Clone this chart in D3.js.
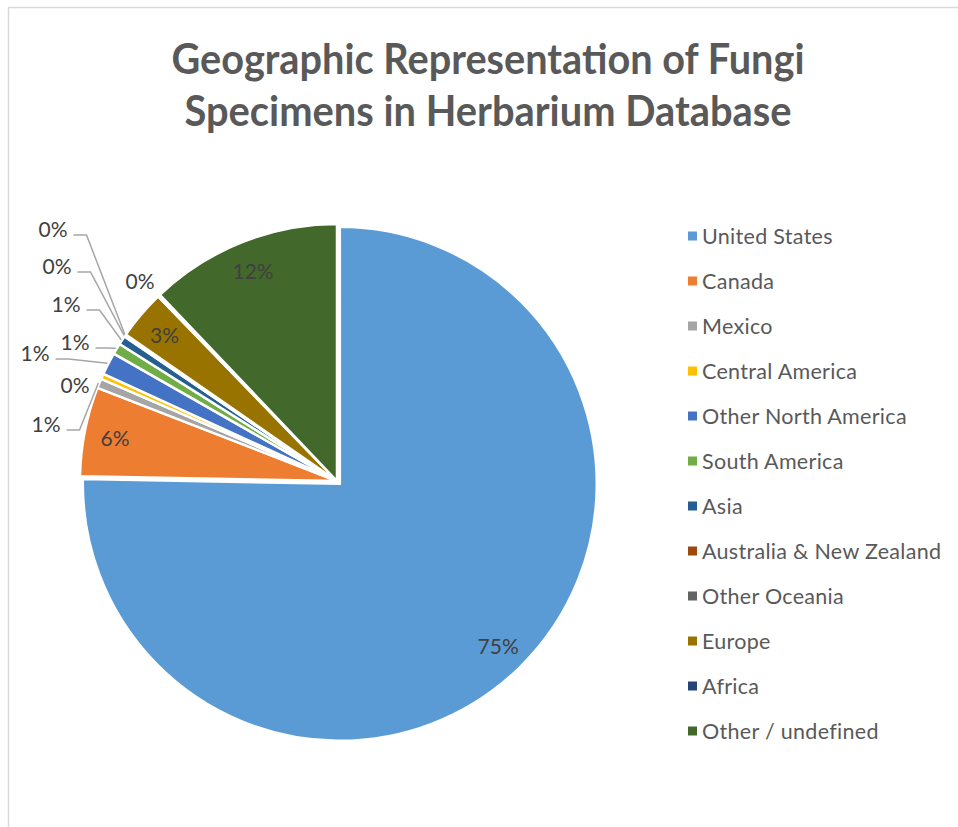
<!DOCTYPE html>
<html>
<head>
<meta charset="utf-8">
<script src="https://cdn.jsdelivr.net/npm/d3@7"></script>
<style>
  body { margin: 0; background: #fff; }
  svg { display: block; font-family: Lato, "Open Sans", sans-serif; }
</style>
</head>
<body>
<div id="chart"></div>
<script>
"use strict";

// data (percent of specimens)
var regions = ["United States", "Canada", "Mexico", "Central America", "Other North America",
               "South America", "Asia", "Australia & New Zealand", "Other Oceania", "Europe",
               "Africa", "Other / undefined"];
var shares = [75.3, 5.6, 0.6, 0.35, 1.4, 0.7, 0.55, 0.1, 0.05, 3.1, 0.15, 12.1];
var colors = ["#5B9BD5", "#ED7D31", "#A5A5A5", "#FFC000", "#4472C4", "#70AD47",
              "#255E91", "#9E480E", "#636363", "#997300", "#264478", "#43682B"];
var titleLines = ["Geographic Representation of Fungi", "Specimens in Herbarium Database"];

// where the small-slice labels sit, relative to the pie centre
var outsideLabels = {
    "Mexico":                  {dx: -291, dy: -58,  leader: true},
    "Central America":         {dx: -262, dy: -97,  leader: false},
    "Other North America":     {dx: -302, dy: -129, leader: true},
    "South America":           {dx: -262, dy: -140, leader: true},
    "Asia":                    {dx: -271, dy: -178, leader: true},
    "Australia & New Zealand": {dx: -280, dy: -216, leader: true},
    "Other Oceania":           {dx: -284, dy: -253, leader: true},
    "Africa":                  {dx: -197, dy: -201, leader: false}
};

var w = 958, h = 827;
var cx = 337, cy = 481, r = 257;
var explode = 4;

var svg = d3.select("#chart")
    .append("svg")
    .attr("width", w)
    .attr("height", h);

// chart frame
svg.append("rect")
    .attr("x", 8.5)
    .attr("y", 7.5)
    .attr("width", 980)
    .attr("height", 850)
    .attr("fill", "none")
    .attr("stroke", "#d9d9d9")
    .attr("stroke-width", 1.5);

// title
var titleWidths = [633, 607];
svg.selectAll("text.title")
    .data(titleLines)
    .enter()
    .append("text")
    .attr("class", "title")
    .attr("x", 488)
    .attr("y", function(d, i){ return 74 + i * 52; })
    .attr("text-anchor", "middle")
    .attr("font-size", 42)
    .attr("font-weight", 700)
    .attr("fill", "#595959")
    .attr("textLength", function(d, i){ return titleWidths[i]; })
    .attr("lengthAdjust", "spacingAndGlyphs")
    .text(function(d){ return d; });

var data = regions.map(function(name, i){
    return {name: name, value: shares[i], color: colors[i]};
});

var total = d3.sum(shares);
var pct = function(v){ return Math.round(v / total * 100) + "%"; };

var pie = d3.pie()
    .sort(null)
    .value(function(d){ return d.value; });

var arcs = pie(data);

var arc = d3.arc()
    .innerRadius(0)
    .outerRadius(r);

var labelArc = d3.arc()
    .innerRadius(r * 0.88)
    .outerRadius(r * 0.88);

var edgeArc = d3.arc()
    .innerRadius(r + 1)
    .outerRadius(r + 1);

function offset(d){
    // only the United States slice is pulled out a little
    if(d.data.name != "United States") return [0, 0];
    var a = (d.startAngle + d.endAngle) / 2;
    return [Math.sin(a) * explode, -Math.cos(a) * explode];
}

var g = svg.append("g")
    .attr("transform", "translate(" + cx + "," + cy + ")");

g.selectAll("path.slice")
    .data(arcs)
    .enter()
    .append("path")
    .attr("class", "slice")
    .attr("d", arc)
    .attr("transform", function(d){
        var o = offset(d);
        return "translate(" + o[0] + "," + o[1] + ")";
    })
    .attr("fill", function(d){ return d.data.color; })
    .attr("stroke", "#fff")
    .attr("stroke-width", 2.5)
    .attr("stroke-linejoin", "round");

// labels inside the big slices
g.selectAll("text.inside")
    .data(arcs.filter(function(d){ return !outsideLabels[d.data.name]; }))
    .enter()
    .append("text")
    .attr("class", "inside")
    .attr("x", function(d){ return labelArc.centroid(d)[0] + offset(d)[0]; })
    .attr("y", function(d){ return labelArc.centroid(d)[1] + offset(d)[1]; })
    .attr("text-anchor", "middle")
    .attr("dominant-baseline", "central")
    .attr("font-size", 21)
    .attr("fill", "#404040")
    .text(function(d){ return pct(d.data.value); });

// labels outside the small slices
var outside = arcs.filter(function(d){ return outsideLabels[d.data.name]; });

var outTexts = g.selectAll("text.outside")
    .data(outside)
    .enter()
    .append("text")
    .attr("class", "outside")
    .attr("x", function(d){ return outsideLabels[d.data.name].dx; })
    .attr("y", function(d){ return outsideLabels[d.data.name].dy; })
    .attr("text-anchor", "middle")
    .attr("dominant-baseline", "central")
    .attr("font-size", 21)
    .attr("fill", "#404040")
    .text(function(d){ return pct(d.data.value); });

outTexts.each(function(d){
    var p = outsideLabels[d.data.name];
    if(!p.leader) return;
    var half = this.getComputedTextLength() / 2;
    var sx = p.dx + half + 6, sy = p.dy + 7;
    var end = edgeArc.centroid(d);
    g.insert("polyline", "text")
        .attr("points", [[sx, sy], [sx + 13, sy], end].map(function(q){ return q.join(","); }).join(" "))
        .attr("fill", "none")
        .attr("stroke", "#a6a6a6")
        .attr("stroke-width", 1.5);
});

// legend
var legend = svg.append("g")
    .attr("transform", "translate(688,236)");

var rows = legend.selectAll("g.row")
    .data(data)
    .enter()
    .append("g")
    .attr("class", "row")
    .attr("transform", function(d, i){ return "translate(0," + (i * 45) + ")"; });

rows.append("rect")
    .attr("x", 0)
    .attr("y", -4.5)
    .attr("width", 9)
    .attr("height", 9)
    .attr("fill", function(d){ return d.color; });

rows.append("text")
    .attr("x", 14)
    .attr("y", 0)
    .attr("dominant-baseline", "central")
    .attr("font-size", 21.5)
    .attr("letter-spacing", 0.3)
    .attr("fill", "#595959")
    .text(function(d){ return d.name; });
</script>
</body>
</html>
